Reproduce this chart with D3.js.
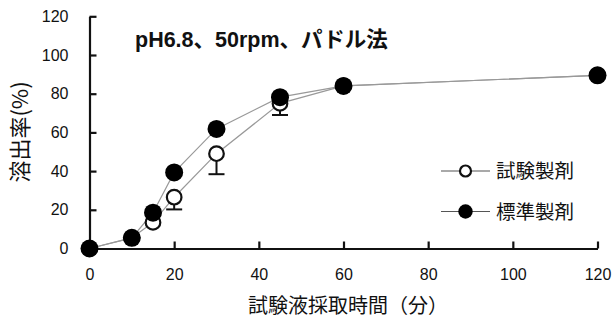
<!DOCTYPE html>
<html>
<head>
<meta charset="utf-8">
<script src="https://cdn.jsdelivr.net/npm/d3@7/dist/d3.min.js"></script>
<style>
  html, body { margin: 0; padding: 0; background: #fff; }
  svg { display: block; }
  text { font-family: "Liberation Sans", Arial, "Noto Sans CJK JP", sans-serif; fill: #111; }
  .jp { font-family: "Noto Sans CJK JP", "Liberation Sans", sans-serif; }
</style>
</head>
<body>
<svg id="chart" width="614" height="323"></svg>
<script>
// Sampling times (min)
const times = [0, 10, 15, 20, 30, 45, 60, 120];
// Dissolution (%) of the test formulation and its lower error
const testValues = [0, 5.5, 13.5, 26.5, 49, 75, 84, 89.5];
const testLower  = [0, 5.5, 13.5, 20.2, 38.4, 69, 84, 89.5];
// Dissolution (%) of the reference formulation
const refValues  = [0, 5.5, 18.5, 39.3, 61.8, 78.2, 84, 89.5];

const xTicks = [0, 20, 40, 60, 80, 100, 120];
const yTicks = [0, 20, 40, 60, 80, 100, 120];

const titleText = "pH6.8、50rpm、パドル法";
const xTitle = "試験液採取時間（分）";
const yTitle = "溶出率(%)";
const seriesNames = ["試験製剤", "標準製剤"];

const svg = d3.select("#chart");
const x = d3.scaleLinear().domain([0, 120]).range([89.5, 597.5]);
const y = d3.scaleLinear().domain([0, 120]).range([248.5, 16.3]);

// Axes with inward ticks
const yAxis = svg.append("g")
  .attr("transform", `translate(${x(0)},0)`)
  .call(d3.axisLeft(y).tickValues(yTicks).tickSizeInner(-7).tickSizeOuter(0).tickPadding(21));
const xAxis = svg.append("g")
  .attr("transform", `translate(0,${y(0)})`)
  .call(d3.axisBottom(x).tickValues(xTicks).tickSizeInner(-7).tickSizeOuter(0).tickPadding(20));

[yAxis, xAxis].forEach(g => {
  g.select(".domain").attr("stroke", "#111").attr("stroke-width", 2.2);
  g.selectAll(".tick line").attr("stroke", "#111").attr("stroke-width", 2.2);
  g.selectAll(".tick text").attr("font-size", 16).attr("fill", "#222")
    .style("font-family", "'Liberation Sans', Arial, sans-serif");
});

// Connecting lines
const line = d3.line().x((d, i) => x(times[i])).y(d => y(d));
svg.append("path").datum(testValues).attr("d", line)
  .attr("fill", "none").attr("stroke", "#999").attr("stroke-width", 1.2);
svg.append("path").datum(refValues).attr("d", line)
  .attr("fill", "none").attr("stroke", "#999").attr("stroke-width", 1.2);

// Lower error bars of the test formulation
const eb = svg.append("g").attr("stroke", "#111").attr("stroke-width", 2);
times.forEach((t, i) => {
  if (testLower[i] < testValues[i]) {
    eb.append("line").attr("x1", x(t)).attr("x2", x(t))
      .attr("y1", y(testValues[i])).attr("y2", y(testLower[i]));
    eb.append("line").attr("x1", x(t) - 8).attr("x2", x(t) + 8)
      .attr("y1", y(testLower[i])).attr("y2", y(testLower[i]));
  }
});

// Markers
svg.append("g").selectAll("circle").data(testValues).join("circle")
  .attr("cx", (d, i) => x(times[i])).attr("cy", d => y(d)).attr("r", 7.3)
  .attr("fill", "#fff").attr("stroke", "#111").attr("stroke-width", 2.2);
svg.append("g").selectAll("circle").data(refValues).join("circle")
  .attr("cx", (d, i) => x(times[i])).attr("cy", d => y(d)).attr("r", 9)
  .attr("fill", "#000");

// Title
svg.append("text").attr("x", 135).attr("y", 47)
  .attr("font-size", 21.5).attr("font-weight", "bold")
  .style("font-family", "'Liberation Sans', Arial, 'Noto Sans CJK JP', sans-serif")
  .text(titleText);

// Axis titles
svg.append("text").attr("class", "jp").attr("x", 348).attr("y", 313)
  .attr("text-anchor", "middle").attr("font-size", 20).attr("fill", "#222")
  .text(xTitle);
svg.append("text").attr("class", "jp")
  .attr("transform", "translate(28,132) rotate(-90)")
  .attr("text-anchor", "middle").attr("font-size", 22).attr("fill", "#222")
  .text(yTitle);

// Legend
const legend = svg.append("g");
seriesNames.forEach((name, i) => {
  const ly = 171 + i * 40.5;
  legend.append("line").attr("x1", 441).attr("x2", 490).attr("y1", ly).attr("y2", ly)
    .attr("stroke", "#555").attr("stroke-width", 1.2);
  if (i === 0) {
    legend.append("circle").attr("cx", 465.5).attr("cy", ly).attr("r", 5.5)
      .attr("fill", "#fff").attr("stroke", "#111").attr("stroke-width", 2.2);
  } else {
    legend.append("circle").attr("cx", 465.5).attr("cy", ly).attr("r", 7.2).attr("fill", "#000");
  }
  legend.append("text").attr("class", "jp").attr("x", 496).attr("y", ly + 7)
    .attr("font-size", 19.5).attr("fill", "#222").text(name);
});
</script>
</body>
</html>
